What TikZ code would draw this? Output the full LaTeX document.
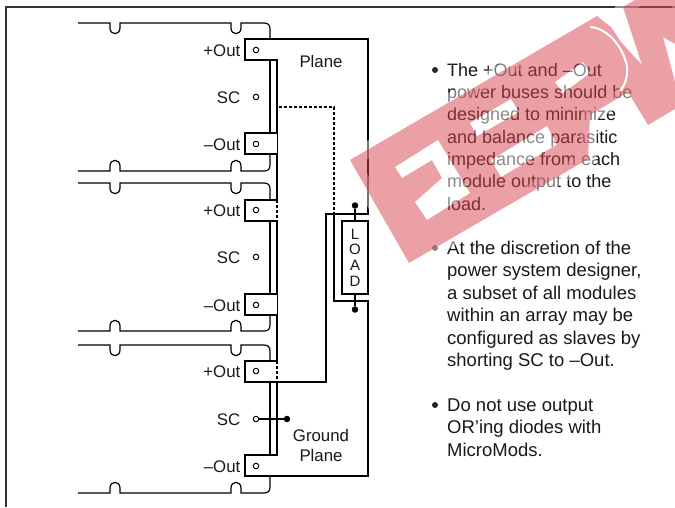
\documentclass[tikz,border=0pt]{standalone}
\usepackage{fontspec}
\setmainfont{Liberation Sans}
\newcommand{\topwire}[2]{% y, end y of the drop
  \draw[wire] (78,#1) -- (110,#1) -- (110,#1+5) .. controls (110,#1+12.5) and (120,#1+12.5) .. (120,#1+5) -- (120,#1) -- (231,#1) -- (231,#1+5) .. controls (231,#1+12.5) and (241,#1+12.5) .. (241,#1+5) -- (241,#1) -- (264,#1) .. controls (268,#1) and (270,#1+2) .. (270,#1+6) -- (270,#2);}
\newcommand{\botwire}[2]{% y, start y of the rise
  \draw[wire] (78,#1) -- (110,#1) -- (110,#1-5) .. controls (110,#1-12.5) and (120,#1-12.5) .. (120,#1-5) -- (120,#1) -- (231,#1) -- (231,#1-5) .. controls (231,#1-12.5) and (241,#1-12.5) .. (241,#1-5) -- (241,#1) -- (264,#1) .. controls (268,#1) and (270,#1-2) .. (270,#1-6) -- (270,#2);}
\definecolor{wmred}{RGB}{215,69,78}
\tikzset{
  wire/.style={draw=black,line width=1.2pt},
  lab/.style={font=\fontsize{16.8}{20}\selectfont,text=black!90,inner sep=0pt,anchor=base east},
  planelab/.style={font=\fontsize{16.8}{20.5}\selectfont,text=black!90,inner sep=0pt,align=center},
  para/.style={font=\fontsize{18}{22.35}\selectfont,text=black!90,inner sep=0pt,anchor=north west,align=left},
  parb/.style={para,font=\fontsize{18.5}{22.35}\selectfont},
  pin/.style={circle,draw=black,line width=1pt,fill=white,minimum size=5.5pt,inner sep=0pt},
  joint/.style={circle,fill=black,minimum size=6.5pt,inner sep=0pt},
  bul/.style={circle,fill=black!85,minimum size=6pt,inner sep=0pt},
  dots/.style={draw=black,line width=1.2pt,dash pattern=on 2.6pt off 2.4pt},
}
\begin{document}
\begin{tikzpicture}[x=1pt,y=-1pt]
\useasboundingbox (0,0) rectangle (675,507);
\fill[white] (0,0) rectangle (675,507);
% frame
\draw[draw=black!80,line width=2pt] (675,7) -- (6,7) -- (6,507);
% module wires
\topwire{23}{39}
\botwire{171}{154}
\topwire{183}{200}
\botwire{331}{315}
\topwire{345}{361}
\botwire{493}{476}
\draw[wire] (270,60) -- (270,133);
\draw[wire] (270,221) -- (270,294);
\draw[wire] (270,382) -- (270,455);
% planes
\draw[wire,line join=miter] (277,361) -- (277,221) -- (245,221) -- (245,200) -- (277,200) -- (277,60) -- (245,60) -- (245,39) -- (368,39) -- (368,214) -- (326,214) -- (326,382) -- (245,382) -- (245,361) -- cycle;
\draw[wire,line join=miter] (277,382) -- (277,455) -- (245,455) -- (245,476) -- (368,476) -- (368,301) -- (334,301) -- (334,214);
\fill[white] (276,201) rectangle (278,220);
\fill[white] (276,362) rectangle (278,381);
\draw[dots] (277,200) -- (277,221);
\draw[dots] (277,361) -- (277,382);
\draw[dots] (279,107) -- (334,107) -- (334,213);
% output tabs
\draw[wire,fill=white] (277,133) -- (245,133) -- (245,154) -- (277,154);
\draw[wire,fill=white] (277,294) -- (245,294) -- (245,315) -- (277,315);
% pins and labels
\foreach \n/\y/\t in {a/50/+Out,b/97/SC,c/144/–Out,d/210/+Out,e/257/SC,f/305/–Out,g/371/+Out,h/419/SC,i/466/–Out}{
  \node[pin] (pin\n) at (256,\y) {};
  \node[lab] (lab\n) at (240.5,\y+6) {\t};
}
\node[joint] (scj) at (287,419) {};
\draw[wire] (pinh) -- (scj);
% load
\node[draw=black,line width=1.2pt,fill=white,minimum width=26pt,minimum height=73pt,inner sep=0pt,align=center,font=\fontsize{15}{15.6}\selectfont,text=black!90] (load) at (355,257.5) {L\\O\\A\\D};
\node[joint] (jt) at (355,205.5) {};
\node[joint] (jb) at (355,309.5) {};
\draw[wire] (jt) -- (load.north);
\draw[wire] (load.south) -- (jb);
% plane labels
\node[planelab] (plane) at (321,61) {Plane};
\node[planelab] (ground) at (321,445.5) {Ground\\Plane};
% bullets text
\node[bul] (b1) at (435,70) {};
\node[para] (p1) at (447,63) {The +Out and –Out\\power buses should be\\designed to minimize\\and balance parasitic\\impedance from each\\module output to the\\load.};
\node[bul] (b2) at (435,248) {};
\node[parb] (p2) at (447,241) {At the discretion of the\\power system designer,\\a subset of all modules\\within an array may be\\configured as slaves by\\shorting SC to –Out.};
\node[bul] (b3) at (435,405) {};
\node[parb] (p3) at (447,398.5) {Do not use output\\OR’ing diodes with\\MicroMods.};
% watermark
\begin{scope}
\clip (0,0) rectangle (675,507);
\draw[white,opacity=.45,line width=16pt,line join=round] (350,160) -- (597,16) -- (611,27) -- (621,42) -- (642,65) -- (623,7) -- (640,-3) -- (680,-3) -- (680,106) -- (648,125) -- (628,92) -- (590,115) -- (588,159) -- (409,263) -- cycle;
\fill[wmred,opacity=.51,even odd rule]
  (350,160) -- (597,16) -- (611,27) -- (621,42) -- (642,65) -- (623,7) -- (640,-3) -- (680,-3) -- (680,106) -- (648,125) -- (628,92) -- (590,115) -- (588,159) -- (409,263) -- cycle
  (395,167) -- (438,140) -- (470,193) -- (427,220) -- (415,202) -- (442,178) -- (432,160) -- (402,178) -- cycle
  (470,123) -- (511,99) -- (519,112) -- (477,136) -- cycle
  (491,160) -- (547,126) -- (557,144.5) -- (501,177) -- cycle
  (555,82) -- (583,62) -- (590,73) -- (563,93) -- cycle
  (663,37) -- (680,100) -- (680,47) -- cycle;
\fill[white,opacity=.5]
  (395,167) -- (438,140) -- (470,193) -- (427,220) -- (415,202) -- (442,178) -- (432,160) -- (402,178) -- cycle
  (470,123) -- (511,99) -- (519,112) -- (477,136) -- cycle
  (491,160) -- (547,126) -- (557,144.5) -- (501,177) -- cycle
  (555,82) -- (583,62) -- (590,73) -- (563,93) -- cycle;
\draw[white,line width=2pt] (590,27) .. controls (606,28) and (622,44) .. (627,66) .. controls (628,74) and (626,84) .. (620,91);
\end{scope}
\end{tikzpicture}
\end{document}
